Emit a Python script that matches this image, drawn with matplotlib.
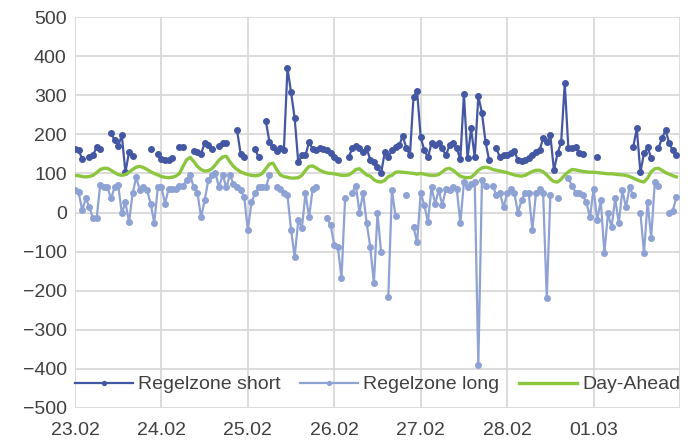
import numpy as np
import pandas as pd
import matplotlib
matplotlib.use("Agg")
import matplotlib.pyplot as plt

plt.rcParams['font.family'] = ['Liberation Sans', 'DejaVu Sans']

# Stundenwerte 23.02 - 01.03 (7 Tage x 24 h), None = kein Wert
day_labels = ['23.02', '24.02', '25.02', '26.02', '27.02', '28.02', '01.03']

regelzone_short = [
    162, 160, 136, None, 141, 146, 167, 162, None, None, 203, 185, 170, 198, 103, 154, 144, None, None, None, None, 162, None, 149,
    136, 134, 134, 139, None, 167, 167, None, None, 157, 155, 150, 177, 172, 162, None, 170, 177, 177, None, None, 210, 150, 142,
    None, None, 162, 141, None, 234, 180, 167, 157, 164, 159, 369, 307, 241, 128, 146, 146, 180, 162, 160, 164, 163, 159, 151,
    141, 134, None, None, 142, 164, 170, 164, 154, 164, 134, 128, 116, 100, 154, 141, 160, 168, 172, 195, 166, 146, 296, 310,
    192, 159, 141, 177, 172, 177, 164, 146, 172, 177, 164, 136, 303, 139, 215, 141, 297, 255, 180, 134, None, 164, 141, 146,
    146, 151, 157, 134, 131, 134, 139, 146, 154, 159, 190, 180, 197, 108, 151, 180, 330, 164, 164, 167, 151, 149, None, None,
    None, 141, None, None, None, None, None, None, None, None, None, 167, 215, 103, 151, 167, 139, None, 164, 190, 210, 177, 159, 146,
]

regelzone_long = [
    57, 52, 6, 36, 13, -15, -15, 70, 64, 64, 36, 64, 70, -2, 26, -25, 49, 90, 57, 64, 57, 23, -27, 64,
    64, 23, 61, 61, 61, 69, 69, 82, 95, 64, 51, -12, 31, 82, 97, 100, 64, 97, 64, 95, 74, 64, 57, 39,
    -45, 26, 49, 64, 64, 64, 95, None, 64, 61, 49, 44, -45, -113, -20, -40, 49, -12, 61, 64, None, None, -15, -33,
    -84, -89, -168, 36, None, 51, 69, 0, 49, -27, -89, -181, -2, -102, None, -216, 57, -9, None, None, 44, None, -38, -76,
    49, 19, -25, 64, 23, 57, 19, 61, 57, 64, 61, -27, 77, 64, 74, 77, -390, 82, 69, None, 69, 44, 51, 13,
    49, 61, 49, 0, 31, 51, 49, -45, 49, 61, 49, -219, 44, None, 36, None, None, 87, 69, 51, 49, 44, 26, -12,
    61, -20, 31, -104, -2, -38, 36, -27, 57, 13, 64, 44, None, 0, -104, 26, -64, 77, 69, None, None, -2, 5, 39,
]

day_ahead = [
    95, 94, 92, 91, 92, 95, 102, 110, 113, 113, 108, 102, 97, 95, 97, 103, 110, 116, 118, 115, 110, 104, 100, 96,
    92, 90, 89, 90, 93, 100, 118, 135, 141, 130, 118, 110, 106, 107, 112, 122, 134, 142, 144, 130, 118, 110, 104, 100,
    97, 95, 94, 95, 100, 112, 124, 126, 110, 96, 92, 90, 88, 88, 89, 95, 108, 118, 119, 114, 108, 104, 101, 100,
    99, 97, 95, 95, 96, 102, 110, 112, 104, 96, 93, 84, 79, 78, 82, 92, 95, 103, 104, 103, 102, 101, 100, 98,
    100, 98, 96, 95, 95, 97, 104, 111, 113, 108, 100, 93, 90, 89, 90, 98, 108, 114, 116, 114, 110, 108, 106, 104,
    102, 99, 96, 94, 93, 95, 100, 105, 108, 108, 104, 96, 86, 79, 78, 85, 96, 104, 110, 109, 107, 105, 104, 103,
    103, 102, 101, 100, 99, 99, 98, 97, 96, 95, 92, 88, 84, 80, 78, 88, 104, 112, 113, 108, 102, 98, 94, 91,
]

df = pd.DataFrame({
    'Regelzone short': np.array(regelzone_short, dtype=float),
    'Regelzone long': np.array(regelzone_long, dtype=float),
    'Day-Ahead': np.array(day_ahead, dtype=float),
})
hours = np.arange(len(df))

fig = plt.figure(figsize=(6.96, 4.47), dpi=100)
ax = fig.add_axes([75 / 696, 39 / 447, 605 / 696, 391 / 447])

ax.plot(hours, df['Regelzone short'], color='#4457a3', lw=1.6, marker='o', ms=4,
        label='Regelzone short')
ax.plot(hours, df['Regelzone long'], color='#8fa2d4', lw=1.6, marker='o', ms=4,
        label='Regelzone long')
ax.plot(hours, df['Day-Ahead'], color='#8cc63f', lw=2.4, label='Day-Ahead')

# Achsen
ax.set_xlim(0, 168)
ax.set_ylim(-500, 500)
ax.set_yticks(range(-500, 501, 100))
ax.set_xticks(range(0, 169, 24))
ax.set_xticklabels(day_labels + [''])
ax.grid(True, color='#d9d9d9', lw=1.3)
ax.set_axisbelow(True)
for s in ax.spines.values():
    s.set_visible(False)
ax.tick_params(length=0, labelsize=14, colors='#404040')
ax.tick_params(axis='y', pad=6)
ax.tick_params(axis='x', pad=10)

ax.legend(loc='center', bbox_to_anchor=(0.5, 0.06), ncol=3, frameon=False,
          fontsize=14, handlelength=3.0, handletextpad=0.25, columnspacing=1.0,
          markerscale=0.7, labelcolor='#404040')

plt.savefig('out.png', dpi=100)
